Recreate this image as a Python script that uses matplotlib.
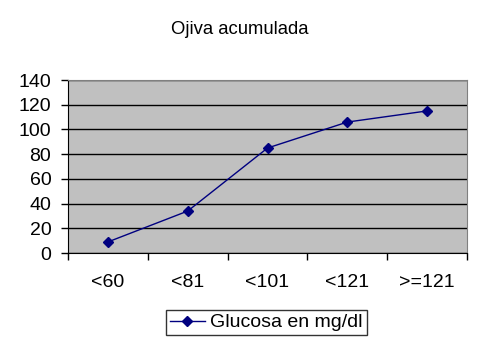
import matplotlib.pyplot as plt
import numpy as np

plt.rcParams['font.family'] = ['Liberation Sans', 'DejaVu Sans']

# Cumulative frequency (ogive) data
categories = ['<60', '<81', '<101', '<121', '>=121']
cumulative = [9, 34, 85, 106, 115]
series_name = 'Glucosa en mg/dl'

fig = plt.figure(figsize=(4.84, 3.51), dpi=100)
ax = fig.add_axes([0.1405, 0.279, 0.8245, 0.493])
ax.set_facecolor('#C0C0C0')

x = np.arange(len(categories))
ax.plot(x, cumulative, color='#000080', linewidth=1, marker='D',
        markersize=5, label=series_name)

ax.set_xlim(-0.5, len(categories) - 0.5)
ax.set_ylim(0, 140)
ax.set_yticks(range(0, 141, 20))
ax.tick_params(axis='y', labelsize=14, length=5, width=1, direction='out', pad=7)

# category labels centered, ticks at category boundaries
ax.set_xticks(np.arange(-0.5, len(categories), 1.0))
ax.set_xticklabels([])
ax.set_xticks(x, minor=True)
ax.set_xticklabels(categories, minor=True, fontsize=14)
ax.tick_params(axis='x', which='major', length=5, width=1, direction='out')
ax.tick_params(axis='x', which='minor', length=0, pad=15)

ax.grid(axis='y', color='black', linewidth=1)
ax.set_axisbelow(True)

for side in ['top', 'right']:
    ax.spines[side].set_color('#808080')
for side in ['left', 'bottom']:
    ax.spines[side].set_color('black')

fig.text(0.496, 0.915, 'Ojiva acumulada', ha='center', va='center', fontsize=13.3)

leg = fig.legend(loc='center', bbox_to_anchor=(0.55, 0.081), fontsize=14,
                 frameon=True, fancybox=False, edgecolor='black',
                 handlelength=1.8, borderpad=0.2, handletextpad=0.3)
leg.get_frame().set_linewidth(1)

fig.savefig('out.png', dpi=100)
